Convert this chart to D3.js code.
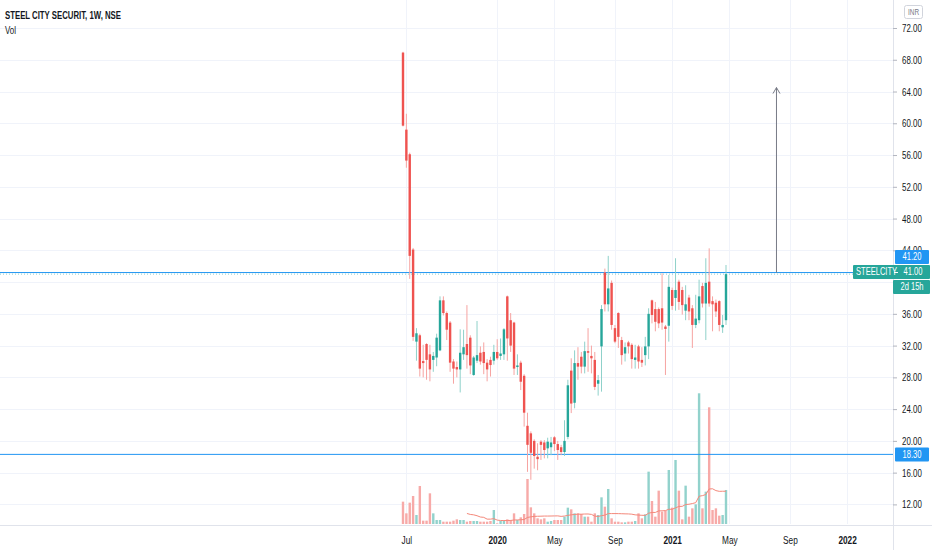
<!DOCTYPE html>
<html><head><meta charset="utf-8">
<script src="https://cdn.jsdelivr.net/npm/d3@7"></script>
<style>
body{margin:0;background:#fff}
svg{display:block}
text{font-family:"Liberation Sans",Arial,sans-serif}
</style>
</head><body>
<svg id="c" width="932" height="550"></svg>
<script>
// ---------- data (weekly candles) ----------
const firstWeek = "2019-06-24";
const opens  = [68.9,59.2,56.1,44.1,32.5,33.3,30.05,32.2,30.9,30.2,30.5,31.4,37.7,36.1,34.9,30.0,29.3,29.0,30.9,32.2,
                33.0,28.3,30.1,31.1,31.2,29.85,30.2,30.1,31.2,30.7,30.9,38.2,35.2,34.9,29.3,29.85,28.2,21.9,20.95,20.0,
                18.0,19.9,19.8,19.06,19.2,20.45,19.6,19.2,18.6,20.5,28.85,24.8,29.8,30.6,29.35,31.3,30.7,30.2,27.2,31.9,
                41.2,37.2,39.9,34.2,36.1,32.7,31.0,32.4,32.1,30.2,31.9,30.2,30.8,31.9,37.7,36.6,36.6,36.7,34.4,34.5,
                39.0,38.0,40.05,39.0,36.4,38.05,36.7,34.6,35.2,39.5,37.3,40.05,37.6,37.4,37.6,34.3,35.2];
const highs  = [69.0,61.2,56.3,44.3,34.2,33.5,32.1,32.3,32.1,31.2,33.5,38.2,38.2,36.3,35.1,30.3,30.0,34.05,34.0,37.1,
                33.3,30.7,35.1,31.9,32.4,30.3,30.6,32.1,32.8,32.9,34.2,38.3,36.1,35.0,30.9,30.1,28.4,23.55,21.2,20.2,
                19.7,20.1,20.1,20.4,20.5,20.6,20.0,19.5,22.6,27.7,30.4,31.4,31.8,31.2,32.5,34.2,32.0,31.2,28.3,37.1,
                41.7,43.3,40.2,34.6,36.2,33.1,32.4,32.6,32.3,32.1,32.1,31.8,33.1,36.7,37.8,37.5,36.8,41.1,34.6,40.9,
                39.3,43.0,40.3,39.4,39.6,38.4,37.1,38.4,40.3,39.9,43.0,44.25,38.2,37.8,37.7,35.85,42.15];
const lows   = [59.6,54.4,40.4,32.6,30.1,28.1,28.0,27.7,27.5,28.7,29.4,31.3,35.8,32.7,28.7,27.2,28.0,26.1,30.2,29.1,
                28.4,28.2,29.8,29.6,28.4,27.5,28.1,29.6,30.2,30.2,30.2,30.1,31.2,28.3,28.3,26.4,21.8,16.1,15.1,16.5,
                16.3,17.6,17.8,17.8,18.2,18.7,17.6,18.2,18.1,20.2,23.5,24.1,27.7,28.5,28.5,28.7,28.5,26.4,25.7,26.2,
                36.3,36.3,34.0,32.3,31.7,29.6,30.0,31.0,29.1,29.1,29.1,29.3,29.5,30.3,34.8,33.8,34.2,34.0,28.3,32.5,
                36.5,36.4,36.5,35.9,35.2,35.2,31.7,34.2,34.8,36.8,32.7,36.9,33.8,35.6,33.8,33.6,34.6];
const closes = [59.7,55.3,43.3,33.1,33.55,29.1,29.8,30.2,29.0,30.7,33.0,37.7,36.1,34.0,29.85,29.1,29.0,31.1,31.8,30.8,
                29.5,30.5,30.8,30.0,29.8,29.0,29.55,31.2,30.4,31.0,34.05,32.9,32.0,29.1,29.5,27.45,23.55,19.5,18.5,18.1,
                17.7,19.5,18.85,19.9,19.8,19.6,18.85,18.6,20.0,27.0,24.7,29.8,29.35,29.35,31.3,31.1,30.4,26.8,27.65,36.6,
                37.2,39.2,34.6,32.5,33.1,30.8,31.8,31.9,30.3,30.5,30.0,29.85,31.9,36.0,35.85,35.0,34.8,34.9,34.1,39.4,
                37.0,39.0,37.5,37.1,37.2,36.3,34.6,35.4,38.2,37.3,39.9,37.3,37.2,36.3,34.6,34.6,41.0];
const volumes = [67,32,64,84,27,114,10,10,92,32,12,12,7,7,7,10,14,12,12,7,
                 9,9,9,7,7,7,9,42,2,9,9,14,12,32,12,20,30,135,50,32,
                 17,14,17,7,9,12,12,12,22,49,44,32,32,30,22,22,7,32,27,80,
                 52,105,17,7,7,5,5,7,7,9,32,17,29,157,69,22,100,37,40,162,
                 49,192,100,14,115,22,47,59,392,47,97,350,42,47,25,27,102];
const volMaLength = 20;

const priceTicks = [12,16,20,24,28,32,36,40,44,48,52,56,60,64,68,72];
const hiddenPriceLabels = [40];   // covered by the price tags on the scale
const timeTicks  = ["2019-07-01","2020-01-06","2020-05-04","2020-09-07","2021-01-04","2021-05-03","2021-09-06","2022-01-03"];
const timeLabels = ["Jul","2020","May","Sep","2021","May","Sep","2022"];
const yearTicks  = ["2020","2021","2022"];
const hLevels    = [41.2, 18.3];
const lastPrice  = 41.0;
const symbol     = "STEELCITY";
const countdown  = "2d 15h";
const arrowDraw  = {date:"2021-08-09", from:41.2, to:64.5};

// ---------- setup ----------
const parse = d3.utcParse("%Y-%m-%d");
const t0 = parse(firstWeek);
const dates = opens.map((_, i) => d3.utcDay.offset(t0, 7 * i));
const n = dates.length;

const W = 932, H = 550, plotR = 893, plotB = 524;
const SQ = 0.72; // horizontal squeeze of the reference's text
const svg = d3.select("#c");

const x  = d3.scaleUtc().domain([dates[0], dates[n - 1]]).range([403, 726]);
const yP = d3.scaleLinear().domain([12, 72]).range([504.4, 28]);
const yV = d3.scaleLinear().domain([0, 392]).range([plotB, plotB - 130.7]);

const UP = "#26a69a", DN = "#ef5350";
const UPW = "#8fd1ca", DNW = "#f6a3a1";
const UPV = "#92d2cc", DNV = "#f7aaa8";

function squeeze(sel) {
  sel.each(function () {
    const t = d3.select(this);
    const ax = +t.attr("x") || 0;
    t.attr("transform", `translate(${ax},0) scale(${SQ},1) translate(${-ax},0)`);
  });
  return sel;
}

svg.append("rect").attr("width", W).attr("height", H).attr("fill", "#fff");

svg.append("defs").append("clipPath").attr("id", "plot")
  .append("rect").attr("x", 0).attr("y", 0).attr("width", plotR).attr("height", plotB + 1);

// grid
const grid = svg.append("g");
grid.selectAll("line.h").data(priceTicks).join("line")
  .attr("x1", 0).attr("x2", plotR)
  .attr("y1", d => Math.round(yP(d)) + 0.5).attr("y2", d => Math.round(yP(d)) + 0.5)
  .attr("stroke", "#f0f3fa");
grid.selectAll("line.v").data(timeTicks).join("line")
  .attr("x1", d => Math.round(x(parse(d))) + 0.5).attr("x2", d => Math.round(x(parse(d))) + 0.5)
  .attr("y1", 0).attr("y2", plotB)
  .attr("stroke", "#f0f3fa");

const plot = svg.append("g").attr("clip-path", "url(#plot)");

// volume bars
const idx = d3.range(n);
const isUp = i => closes[i] >= opens[i];
plot.append("g").selectAll("rect").data(idx).join("rect")
  .attr("x", i => x(dates[i]) - 1.2).attr("width", 2.4)
  .attr("y", i => yV(volumes[i])).attr("height", i => yV(0) - yV(volumes[i]))
  .attr("fill", i => isUp(i) ? UPV : DNV);

// volume MA
const ma = idx.filter(i => i >= volMaLength - 1)
  .map(i => [i, d3.mean(volumes.slice(i - volMaLength + 1, i + 1))]);
plot.append("path")
  .attr("d", d3.line().x(d => x(dates[d[0]])).y(d => yV(d[1]))(ma))
  .attr("fill", "none").attr("stroke", "#f4887a").attr("stroke-width", 1);

// horizontal levels
plot.selectAll("line.lvl").data(hLevels).join("line")
  .attr("x1", 0).attr("x2", plotR)
  .attr("y1", d => yP(d)).attr("y2", d => yP(d))
  .attr("stroke", "#2196f3").attr("stroke-width", 1);
plot.append("line")
  .attr("x1", 0).attr("x2", plotR)
  .attr("y1", yP(lastPrice)).attr("y2", yP(lastPrice))
  .attr("stroke", UP).attr("stroke-opacity", 0.5).attr("stroke-dasharray", "1,2");

// candles
plot.append("g").selectAll("line").data(idx).join("line")
  .attr("x1", i => x(dates[i])).attr("x2", i => x(dates[i]))
  .attr("y1", i => yP(highs[i])).attr("y2", i => yP(lows[i]))
  .attr("stroke", i => isUp(i) ? UPW : DNW).attr("stroke-width", 1);
plot.append("g").selectAll("rect").data(idx).join("rect")
  .attr("x", i => x(dates[i]) - 1.2).attr("width", 2.4)
  .attr("y", i => yP(Math.max(opens[i], closes[i])))
  .attr("height", i => Math.max(1, Math.abs(yP(opens[i]) - yP(closes[i]))))
  .attr("fill", i => isUp(i) ? UP : DN);

// arrow drawing
const ax = x(parse(arrowDraw.date));
const ay1 = yP(arrowDraw.from), ay2 = yP(arrowDraw.to);
const arrow = plot.append("g").attr("stroke", "#787b86").attr("stroke-width", 1).attr("fill", "none");
arrow.append("line").attr("x1", ax).attr("x2", ax).attr("y1", ay1).attr("y2", ay2);
arrow.append("path").attr("d", `M${ax - 3.5},${ay2 + 6}L${ax},${ay2}L${ax + 3.5},${ay2 + 6}`);

// borders
svg.append("line").attr("x1", plotR + 0.5).attr("x2", plotR + 0.5).attr("y1", 0).attr("y2", H).attr("stroke", "#e0e3eb");
svg.append("line").attr("x1", 0).attr("x2", W).attr("y1", plotB + 1.5).attr("y2", plotB + 1.5).attr("stroke", "#e0e3eb");

// right price axis
const yAxis = svg.append("g").attr("transform", `translate(${plotR},0)`)
  .call(d3.axisRight(yP).tickValues(priceTicks.filter(v => !hiddenPriceLabels.includes(v)))
    .tickFormat(d3.format(".2f")).tickSize(4).tickPadding(5));
yAxis.select(".domain").remove();
yAxis.selectAll(".tick line").attr("stroke", "#b2b5be");
squeeze(yAxis.selectAll(".tick text").attr("fill", "#131722").attr("font-size", 11));

// bottom time axis
const xAxis = svg.append("g").attr("transform", `translate(0,${plotB + 1})`)
  .call(d3.axisBottom(x).tickValues(timeTicks.map(parse)).tickFormat((d, i) => timeLabels[i]).tickSize(0).tickPadding(11));
xAxis.select(".domain").remove();
squeeze(xAxis.selectAll(".tick text")
  .attr("fill", "#131722").attr("font-size", 11.5)
  .attr("font-weight", (d, i) => yearTicks.includes(timeLabels[i]) ? "bold" : "normal"));

// price labels on the scale
function tag(yc, x0, w, fill, txt, tx, anchor) {
  const g = svg.append("g");
  g.append("rect").attr("x", x0).attr("y", yc - 7).attr("width", w).attr("height", 14).attr("rx", 1).attr("fill", fill);
  squeeze(g.append("text").attr("x", tx).attr("y", yc + 3.5).attr("text-anchor", anchor)
    .attr("fill", "#fff").attr("font-size", 10.5).text(txt));
  return g;
}
const f2 = d3.format(".2f");
tag(yP(18.3), 895, 34, "#2196f3", f2(18.3), 912, "middle");
tag(257, 895, 34, "#2196f3", f2(41.2), 912, "middle");
const lp = tag(272, 853, 77, UP, symbol, 856, "start");
lp.append("line").attr("x1", 894).attr("x2", 898).attr("y1", 272.5).attr("y2", 272.5).attr("stroke", "#fff");
squeeze(lp.append("text").attr("x", 913).attr("y", 275.5).attr("text-anchor", "middle")
  .attr("fill", "#fff").attr("font-size", 10.5).text(f2(lastPrice)));
tag(287, 893, 37, UP, countdown, 912, "middle");

// currency box
svg.append("rect").attr("x", 904.5).attr("y", 5.5).attr("width", 18).attr("height", 13).attr("rx", 2)
  .attr("fill", "#fff").attr("stroke", "#d1d4dc");
squeeze(svg.append("text").attr("x", 913.5).attr("y", 15).attr("text-anchor", "middle").attr("font-size", 9)
  .attr("fill", "#787b86").text("INR"));

// legend
svg.append("text").attr("x", 5).attr("y", 19).attr("font-size", 11).attr("font-weight", "bold")
  .attr("fill", "#131722").attr("textLength", 116).attr("lengthAdjust", "spacingAndGlyphs")
  .text("STEEL CITY SECURIT, 1W, NSE");
squeeze(svg.append("text").attr("x", 5).attr("y", 34).attr("font-size", 11).attr("fill", "#131722").text("Vol"));
</script>
</body></html>
